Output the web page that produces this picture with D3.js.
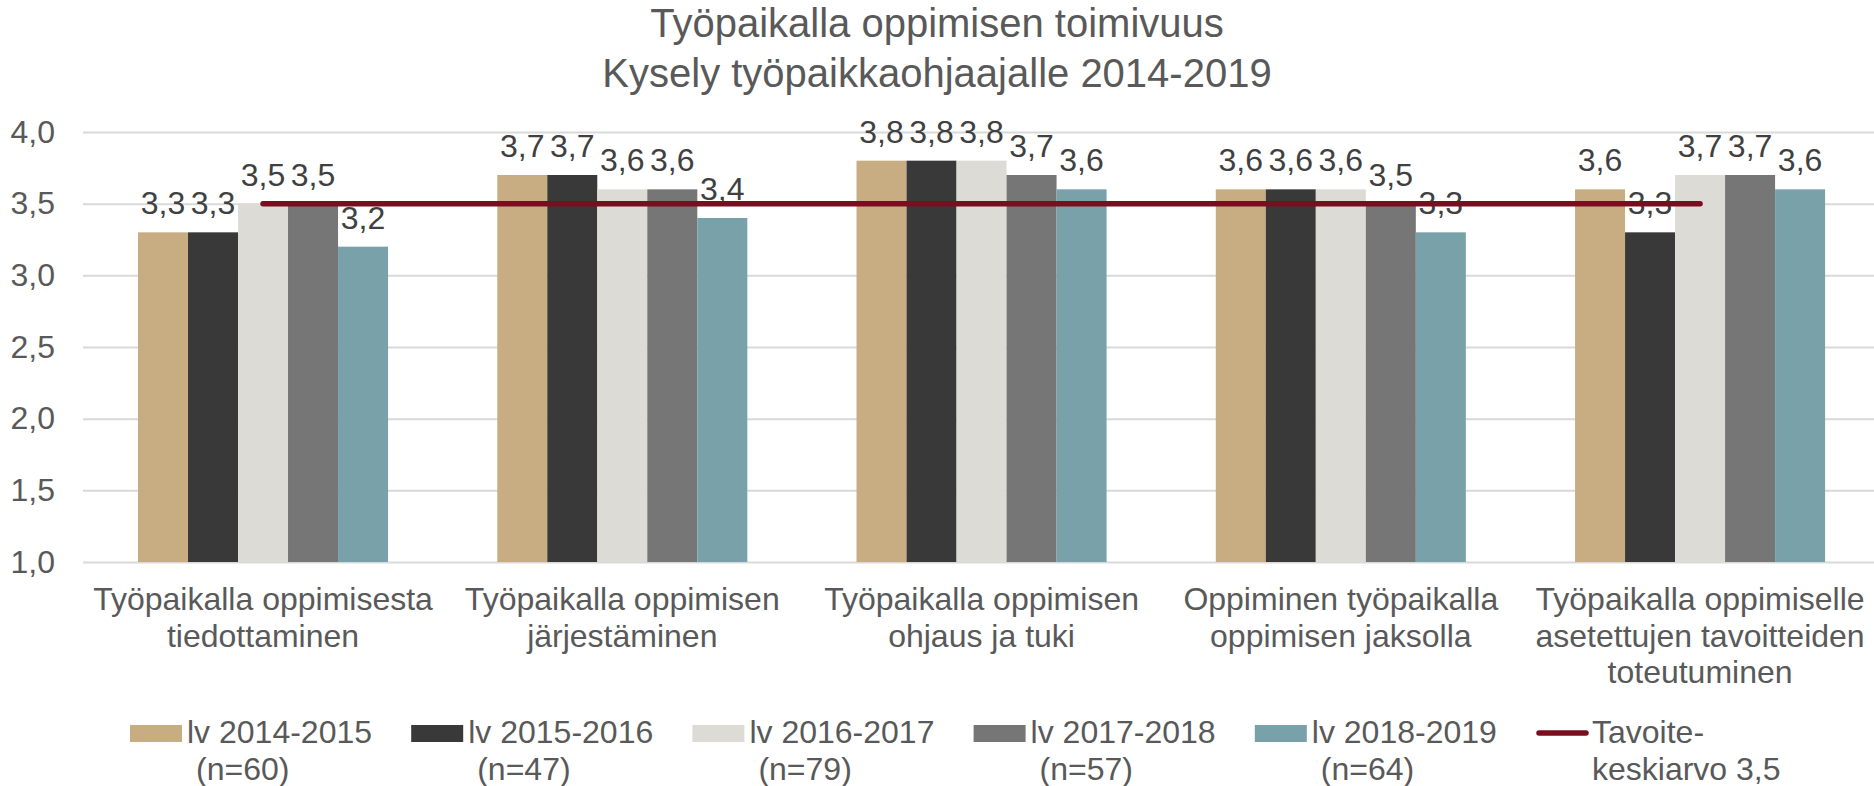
<!DOCTYPE html>
<html>
  <head>
    <meta charset="utf-8">
    <title>Työpaikalla oppimisen toimivuus</title>
    <style>
      body {
        margin: 0;
        padding: 0;
        overflow: hidden;
        background: #fff;
      }
      svg {
        display: block;
        font-family: "Liberation Sans", Arial, sans-serif;
      }
    </style>
    <script src="https://unpkg.com/d3@7.8.5/dist/d3.min.js"></script>
  </head>
  <body>
    <svg></svg>
    <script>
      const width = 1874;
      const height = 786;

      // Kategoriat (rivit erotettu)
      const categories = [
        ['Työpaikalla oppimisesta', 'tiedottaminen'],
        ['Työpaikalla oppimisen', 'järjestäminen'],
        ['Työpaikalla oppimisen', 'ohjaus ja tuki'],
        ['Oppiminen työpaikalla', 'oppimisen jaksolla'],
        ['Työpaikalla oppimiselle', 'asetettujen tavoitteiden', 'toteutuminen']
      ];

      const seriesNames = ['lv 2014-2015', 'lv 2015-2016', 'lv 2016-2017', 'lv 2017-2018', 'lv 2018-2019'];
      const seriesN = ['(n=60)', '(n=47)', '(n=79)', '(n=57)', '(n=64)'];
      const seriesColors = ['#C9AD82', '#393939', '#DCDBD6', '#767676', '#78A1AA'];

      // Arvot sarjoittain (yksi arvo per kategoria)
      const v2014 = [3.3, 3.7, 3.8, 3.6, 3.6];
      const v2015 = [3.3, 3.7, 3.8, 3.6, 3.3];
      const v2016 = [3.5, 3.6, 3.8, 3.6, 3.7];
      const v2017 = [3.5, 3.6, 3.7, 3.5, 3.7];
      const v2018 = [3.2, 3.4, 3.6, 3.3, 3.6];
      const seriesValues = [v2014, v2015, v2016, v2017, v2018];

      const target = 3.5;
      const targetLabel = ['Tavoite-', 'keskiarvo 3,5'];
      const yTicks = [1.0, 1.5, 2.0, 2.5, 3.0, 3.5, 4.0];

      const fmt = v => d3.format('.1f')(v).replace('.', ',');
      const fs = 32;

      const svg = d3.select('svg')
        .attr('width', width)
        .attr('height', height);

      // Skaalat
      const x0 = d3.scaleBand()
        .domain(d3.range(categories.length))
        .range([83.4, 1879.7])
        .padding(0);

      const groupWidth = x0.bandwidth() * 0.696;
      const x1 = d3.scaleBand()
        .domain(d3.range(seriesNames.length))
        .range([0, groupWidth]);

      const y = d3.scaleLinear()
        .domain([1, 4])
        .range([562, 132]);

      // Otsikko
      svg.append('text')
        .attr('x', width / 2)
        .attr('text-anchor', 'middle')
        .attr('fill', '#595959')
        .attr('font-size', 40)
        .selectAll('tspan')
        .data(['Työpaikalla oppimisen toimivuus', 'Kysely työpaikkaohjaajalle 2014-2019'])
        .enter()
        .append('tspan')
        .attr('x', width / 2)
        .attr('y', (d, i) => 37 + i * 50)
        .text(d => d);

      // Y-akseli ja ruudukko
      const yAxis = svg.append('g')
        .attr('transform', 'translate(83,0)')
        .call(d3.axisLeft(y)
          .tickValues(yTicks)
          .tickFormat(fmt)
          .tickSize(-(width - 83))
          .tickPadding(28));

      yAxis.select('.domain').remove();
      yAxis.selectAll('.tick line')
        .attr('stroke', '#D9D9D9')
        .attr('stroke-width', 2);
      yAxis.selectAll('.tick text')
        .attr('fill', '#595959')
        .attr('font-size', fs)
        .attr('font-family', '"Liberation Sans", Arial, sans-serif');

      // Pylväät
      const groups = svg.selectAll('g.cat')
        .data(categories)
        .enter()
        .append('g')
        .attr('class', 'cat')
        .attr('transform', (d, i) => `translate(${x0(i) + (x0.bandwidth() - groupWidth) / 2},0)`);

      groups.selectAll('rect')
        .data((d, i) => seriesValues.map((vals, s) => ({ s, v: vals[i] })))
        .enter()
        .append('rect')
        .attr('x', d => x1(d.s))
        .attr('width', x1.bandwidth())
        .attr('y', d => y(d.v))
        .attr('height', d => y(1) - y(d.v))
        .attr('fill', d => seriesColors[d.s]);

      // Tavoiteviiva
      svg.append('line')
        .attr('x1', x0(0) + x0.bandwidth() / 2)
        .attr('x2', x0(categories.length - 1) + x0.bandwidth() / 2)
        .attr('y1', y(target))
        .attr('y2', y(target))
        .attr('stroke', '#7A0E1E')
        .attr('stroke-width', 5.5)
        .attr('stroke-linecap', 'round');

      // Arvotunnisteet
      groups.selectAll('text.val')
        .data((d, i) => seriesValues.map((vals, s) => ({ s, v: vals[i] })))
        .enter()
        .append('text')
        .attr('class', 'val')
        .attr('x', d => x1(d.s) + x1.bandwidth() / 2)
        .attr('y', d => y(d.v) - 18)
        .attr('text-anchor', 'middle')
        .attr('fill', '#404040')
        .attr('font-size', fs)
        .text(d => fmt(d.v));

      // Kategorianimet
      svg.selectAll('text.cat')
        .data(categories)
        .enter()
        .append('text')
        .attr('class', 'cat')
        .attr('text-anchor', 'middle')
        .attr('fill', '#595959')
        .attr('font-size', fs)
        .each(function (lines, i) {
          const cx = x0(i) + x0.bandwidth() / 2;
          d3.select(this).selectAll('tspan')
            .data(lines)
            .enter()
            .append('tspan')
            .attr('x', cx)
            .attr('y', (d, j) => 610 + j * 36.5)
            .text(d => d);
        });

      // Selite
      const legendStep = 281.2;
      const legend = svg.append('g');

      seriesNames.forEach((name, i) => {
        const lx = 130 + i * legendStep;
        legend.append('rect')
          .attr('x', lx)
          .attr('y', 725)
          .attr('width', 52)
          .attr('height', 17)
          .attr('fill', seriesColors[i]);
        legend.append('text')
          .attr('x', lx + 57)
          .attr('y', 743)
          .attr('fill', '#595959')
          .attr('font-size', fs)
          .text(name);
        legend.append('text')
          .attr('x', lx + 66)
          .attr('y', 780)
          .attr('fill', '#595959')
          .attr('font-size', fs)
          .text(seriesN[i]);
      });

      const tlx = 130 + seriesNames.length * legendStep;
      legend.append('line')
        .attr('x1', tlx + 3)
        .attr('x2', tlx + 50)
        .attr('y1', 733)
        .attr('y2', 733)
        .attr('stroke', '#7A0E1E')
        .attr('stroke-width', 5.5)
        .attr('stroke-linecap', 'round');
      targetLabel.forEach((t, j) => {
        legend.append('text')
          .attr('x', tlx + 56)
          .attr('y', 743 + j * 37)
          .attr('fill', '#595959')
          .attr('font-size', fs)
          .text(t);
      });
    </script>
  </body>
</html>
